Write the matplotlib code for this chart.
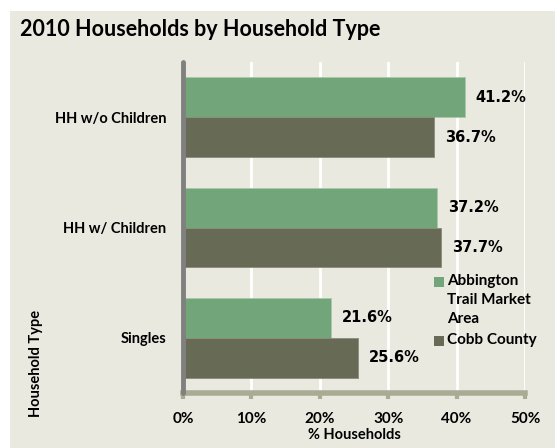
import matplotlib.pyplot as plt
import matplotlib.patches as mpatches
import numpy as np

categories = ["HH w/o Children", "HH w/ Children", "Singles"]
abbington = [41.2, 37.2, 21.6]
cobb = [36.7, 37.7, 25.6]
series_names = ["Abbington\nTrail Market\nArea", "Cobb County"]
xticks = [0, 10, 20, 30, 40, 50]

bg = "#E9E9DF"
green = "#72A67A"
dark = "#676B55"

plt.rcParams["font.family"] = ["Lato", "DejaVu Sans"]

fig = plt.figure(figsize=(5.55, 4.48), dpi=100)
fig.patch.set_facecolor("white")
fig.patches.append(mpatches.Rectangle((10 / 555, 0), 1, 1 - 11 / 448,
                                      transform=fig.transFigure,
                                      facecolor=bg, edgecolor="none", zorder=-10))

ax = fig.add_axes([183 / 555, 1 - 393 / 448, (525 - 183) / 555, (393 - 62) / 448])
ax.set_facecolor(bg)

y = np.arange(len(categories))
h = 0.36
b1 = ax.barh(y - h / 2, abbington, height=h, color=green, edgecolor="#A9C9A8",
             linewidth=0.6, zorder=3)
b2 = ax.barh(y + h / 2, cobb, height=h, color=dark, edgecolor="#8A8C78",
             linewidth=0.6, zorder=3)

for bars, vals in ((b1, abbington), (b2, cobb)):
    for bar, v in zip(bars, vals):
        ax.text(v + 1.6, bar.get_y() + bar.get_height() / 2, f"{v:.1f}%",
                va="center", ha="left", fontsize=10.5, fontweight="bold",
                family="DejaVu Sans")

ax.set_ylim(2.5, -0.5)
ax.set_xlim(0, 50)
ax.set_yticks(y)
ax.set_yticklabels(categories, fontsize=10.5, fontweight="bold")
ax.set_xticks(xticks)
ax.set_xticklabels([f"{t}%" for t in xticks], fontsize=11, fontweight="bold")
ax.tick_params(axis="y", length=0, pad=12)
ax.tick_params(axis="x", length=4, width=3, color="#A9AC94", pad=10)

ax.grid(axis="x", color="white", linewidth=2, zorder=0)
for s in ("top", "right"):
    ax.spines[s].set_visible(False)
ax.spines["left"].set_color("#808080")
ax.spines["left"].set_linewidth(3.5)
ax.spines["left"].set_capstyle("round")
ax.spines["bottom"].set_color("#A9AC94")
ax.spines["bottom"].set_linewidth(4)
ax.spines["left"].set_zorder(5)

ax.set_xlabel("% Households", fontsize=10.5, fontweight="bold", labelpad=1)

fig.text(20 / 555, 1 - 30 / 448, "2010 Households by Household Type",
         fontsize=15.5, fontweight="bold", va="center", ha="left")
fig.text(36 / 555, 1 - 363 / 448, "Household Type", rotation=90,
         fontsize=10.5, fontweight="bold", va="center", ha="center")

# legend: handle lines up with the first line of each label
leg_x, leg_y = 434, 277
for color, name, dy in ((green, series_names[0], 0), (dark, series_names[1], 59)):
    fig.patches.append(mpatches.Rectangle((leg_x / 555, 1 - (leg_y + dy + 10) / 448),
                                          10 / 555, 10 / 448, transform=fig.transFigure,
                                          facecolor=color, edgecolor="none"))
    fig.text((leg_x + 13) / 555, 1 - (leg_y + dy - 3) / 448, name, fontsize=11,
             fontweight="bold", va="top", ha="left", linespacing=1.45)

fig.savefig("out.png", dpi=100, facecolor=fig.get_facecolor())
